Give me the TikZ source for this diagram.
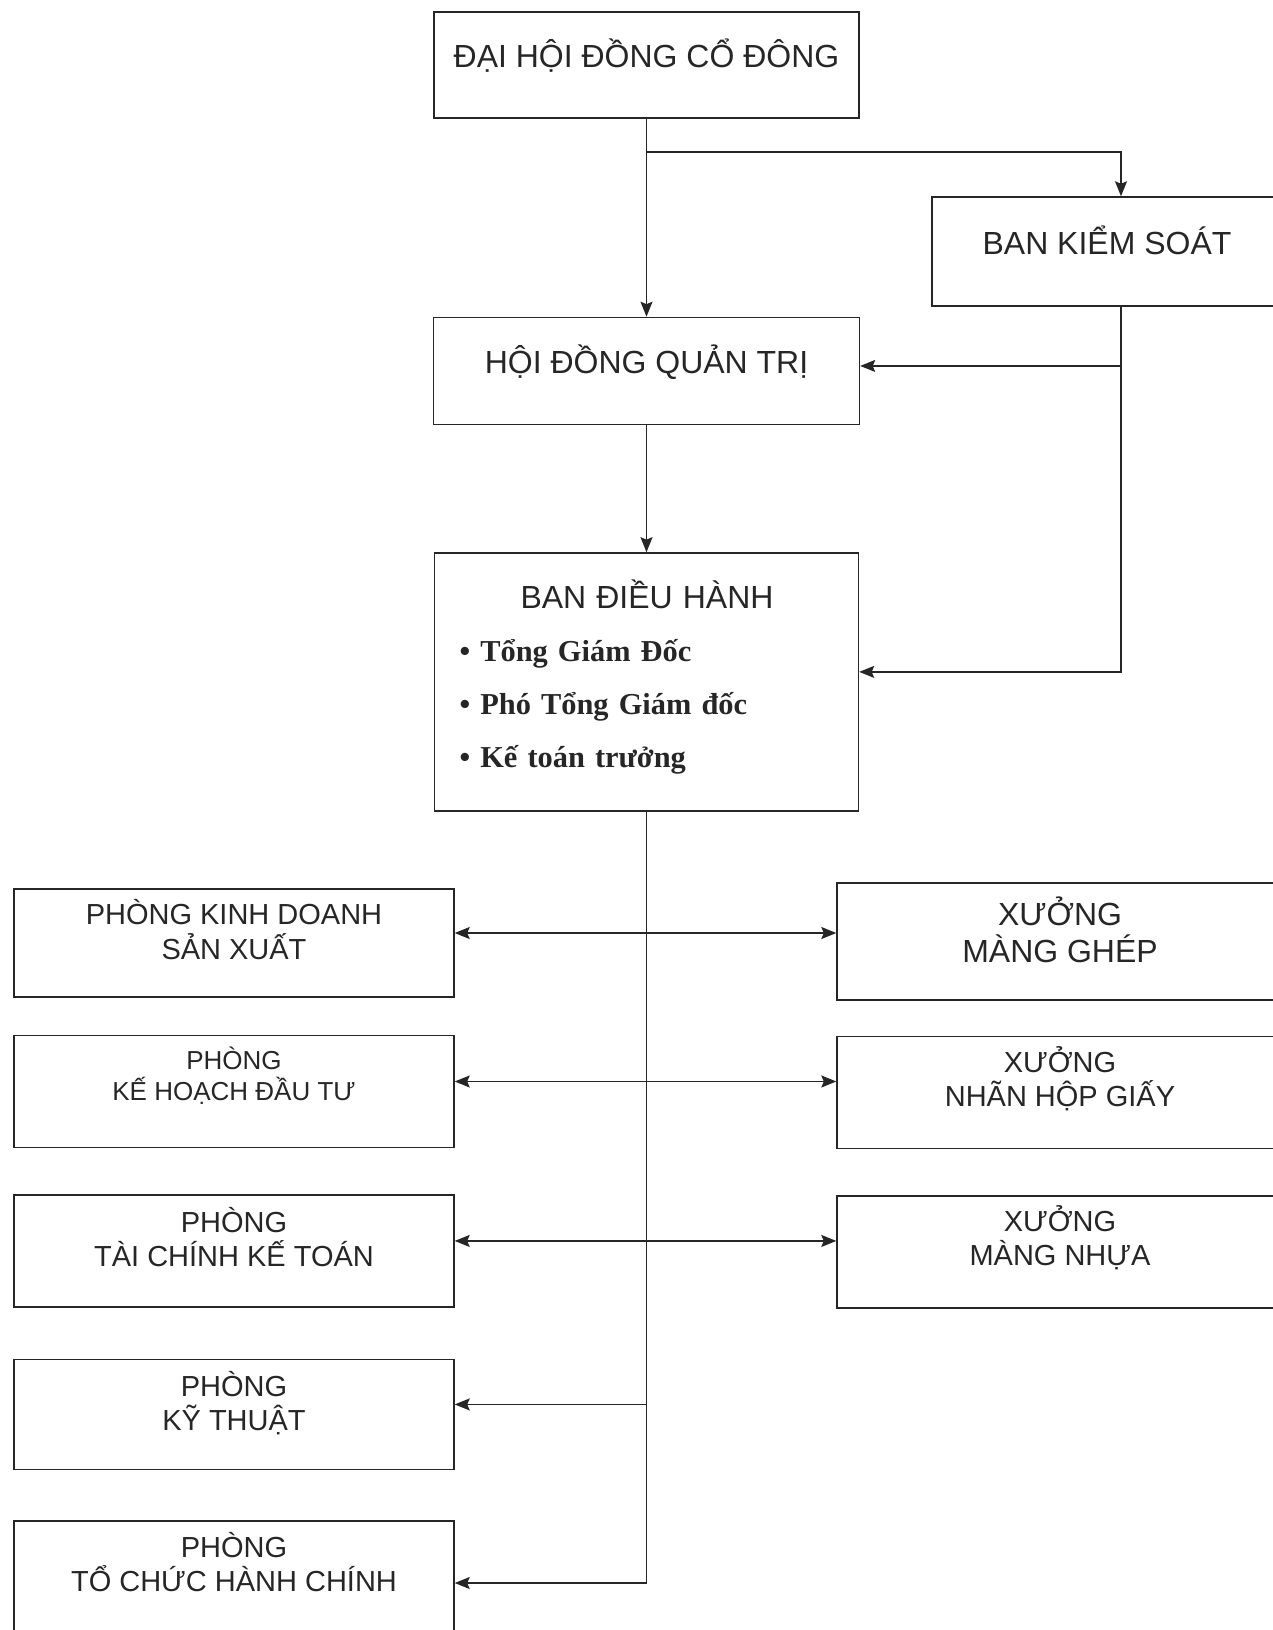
\documentclass[tikz,border=0pt]{standalone}
\usepackage{fontspec}
\setmainfont{Liberation Sans}
\newfontfamily\listfamily{Liberation Serif}
\usetikzlibrary{arrows.meta,positioning}
\definecolor{ink}{gray}{0.15}
\newcommand\headfont{\normalfont\fontsize{18.2}{21}\selectfont}
\newcommand\deptfont{\fontsize{16.5}{19.4}\selectfont}
\newcommand\smalldeptfont{\fontsize{14.8}{17.6}\selectfont}
\newcommand\workfont{\fontsize{18.2}{20.5}\selectfont}
\newcommand\listfont{\listfamily\bfseries\fontsize{17.3}{30.2}\selectfont}
\tikzset{
  unit/.style={draw,rectangle,align=center,inner sep=0pt,line width=0.03cm},
  board/.style={unit,font=\headfont,text height=0.5cm,text depth=0.4cm},
  dept/.style={unit,font=\deptfont,minimum width=8.8cm,minimum height=2.2cm,
    text height=1.04cm,text depth=0.4cm},
  workshop/.style={unit,font=\deptfont,minimum width=8.92cm,minimum height=2.24cm,
    text height=0.96cm,text depth=0.4cm},
  chart/.style={
    ->,>={Stealth[length=0.3cm,width=0.24cm,inset=0.05cm]},color=ink,
    line width=0.03cm,x=0.02cm,y=-0.02cm
  }
}
\begin{document}
\begin{tikzpicture}[chart]
\useasboundingbox (0,0) rectangle (1273,1630);

% top of the chart
\node[board,minimum width=8.5cm,minimum height=2.12cm] (dh) at (646.5,65) {ĐẠI HỘI ĐỒNG CỔ ĐÔNG};
\node[board,minimum width=7cm,minimum height=2.18cm] (bks) at (1107,251.5) {BAN KIỂM SOÁT};
\node[board,minimum width=8.52cm,minimum height=2.14cm] (hd) [below=3.96cm of dh] {HỘI ĐỒNG QUẢN TRỊ};
\node[unit,font=\listfont,text width=8.48cm,align=left,minimum height=5.16cm,
  text height=0.4cm,text depth=3.34cm] (bdh) [below=2.54cm of hd]
  {\hspace*{1.72cm}{\headfont BAN ĐIỀU HÀNH}\\
   \hspace*{0.5cm}\textbullet\ Tổng Giám Đốc\\
   \hspace*{0.5cm}\textbullet\ Phó Tổng Giám đốc\\
   \hspace*{0.5cm}\textbullet\ Kế toán trưởng};

% departments
\node[dept,minimum height=2.16cm] (pkd) at (234,943) {PHÒNG KINH DOANH\\SẢN XUẤT};
\node[dept,font=\smalldeptfont,minimum height=2.24cm,text height=0.77cm] (pkh) [below=0.74cm of pkd] {PHÒNG\\KẾ HOẠCH ĐẦU TƯ};
\node[dept,minimum height=2.24cm] (ptc) [below=0.92cm of pkh] {PHÒNG\\TÀI CHÍNH KẾ TOÁN};
\node[dept] (pkt) [below=1.02cm of ptc] {PHÒNG\\KỸ THUẬT};
\node[dept] (pto) [below=1cm of pkt] {PHÒNG\\TỔ CHỨC HÀNH CHÍNH};

% workshops
\node[workshop,font=\workfont,minimum height=2.34cm,text height=1.22cm] (xmg) at (1060,941.5) {XƯỞNG\\MÀNG GHÉP};
\node[workshop] (xnh) [below=0.7cm of xmg] {XƯỞNG\\NHÃN HỘP GIẤY};
\node[workshop] (xmn) [below=0.92cm of xnh] {XƯỞNG\\MÀNG NHỰA};

\coordinate (split) at (646.5,152);
\coordinate (tap) at (1121,152);
\coordinate (tend) at (646.5,1583);

\draw (dh) -- (hd);
\draw (split) -- (tap) -- (tap |- bks.north);
\draw (hd) -- (bdh);
\draw (tap |- bks.south) |- ([yshift=2mm]bdh.east);
\draw ([yshift=1mm]hd.east -| tap) -- ([yshift=1mm]hd.east);

\draw[-] (bdh) -- (tend);
\foreach \l/\r in {pkd/xmg,pkh/xnh,ptc/xmn}
  \draw[<->] ([yshift=2mm]\l.east) -- ([yshift=2mm]\l.east -| \r.west);
\draw ([yshift=2mm]pkt.east -| tend) -- ([yshift=2mm]pkt.east);
\draw (tend) -- (tend -| pto.east);
\end{tikzpicture}
\end{document}
